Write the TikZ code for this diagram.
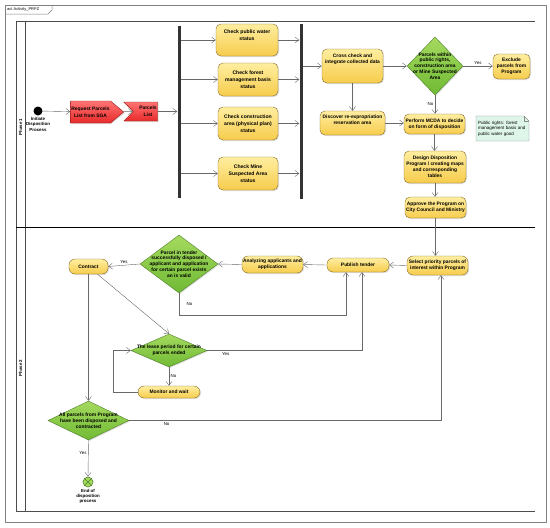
\documentclass[tikz,border=0pt]{standalone}
\usepackage{fontspec}
\setmainfont{Liberation Sans}
\usetikzlibrary{arrows.meta, positioning, shapes.geometric, shapes.symbols, shadows, backgrounds}

\definecolor{actTop}{RGB}{255,238,160}
\definecolor{actBottom}{RGB}{246,204,76}
\definecolor{actLine}{RGB}{135,108,40}
\definecolor{decTop}{RGB}{165,218,95}
\definecolor{decBottom}{RGB}{112,186,52}
\definecolor{decLine}{RGB}{78,128,40}
\definecolor{sigTop}{RGB}{255,115,115}
\definecolor{sigBottom}{RGB}{232,42,42}
\definecolor{sigLine}{RGB}{150,30,30}
\definecolor{noteFill}{RGB}{222,246,234}
\definecolor{flowGray}{RGB}{105,105,105}

\begin{document}
\begin{tikzpicture}[
			x=1pt, y=-1pt,
			font=\bfseries\fontsize{4.9}{6}\selectfont,
			% Node styles
			actBox/.style={rectangle, rounded corners=5pt, draw=actLine, top color=actTop, bottom color=actBottom, align=center, inner sep=1pt, drop shadow={shadow xshift=1pt, shadow yshift=-1pt, opacity=0.25}},
			checkBox/.style={actBox, font=\bfseries\fontsize{5.1}{7}\selectfont},
			pillBox/.style={actBox, rounded corners=6pt},
			decision/.style={diamond, draw=decLine, top color=decTop, bottom color=decBottom, inner sep=0pt, drop shadow={shadow xshift=1pt, shadow yshift=-1pt, opacity=0.25}},
			decText/.style={align=center, inner sep=0pt, font=\bfseries\fontsize{4.9}{5.8}\selectfont},
			sigBox/.style={signal, draw=sigLine, top color=sigTop, bottom color=sigBottom, align=center, inner sep=1pt, font=\bfseries\fontsize{4.9}{6.8}\selectfont, drop shadow={shadow xshift=1pt, shadow yshift=-1pt, opacity=0.25}},
			barNode/.style={rectangle, fill=black!80, inner sep=0pt, minimum width=3pt},
			initNode/.style={circle, fill=black, inner sep=0pt, minimum size=9pt},
			finalNode/.style={circle, draw=decLine, fill=decTop, inner sep=0pt, minimum size=10pt, line width=0.6pt},
			noteBox/.style={align=left, inner sep=2pt, text width=49pt, font=\mdseries\fontsize{4.5}{5.4}\selectfont},
			smallText/.style={align=center, inner sep=1pt, font=\bfseries\fontsize{4.4}{5.4}\selectfont},
			% Line styles
			flow/.style={draw=flowGray, -{Straight Barb[length=4pt, width=6pt]}},
			flowLabel/.style={font=\mdseries\fontsize{4.4}{5}\selectfont, inner sep=1.5pt},
			laneLine/.style={draw=black!70, line width=0.6pt}
			]
			
			\useasboundingbox (0,0) rectangle (550,528);
			
			% =========================================================
			% 0. FRAME AND SWIMLANES
			% =========================================================
			
			\draw[draw=black!50, line width=0.6pt] (5,5) rectangle (546,522);
			\draw[draw=black!50, line width=0.5pt] (5,14) -- (48,14) -- (52,10) -- (52,5);
			\node[font=\mdseries\fontsize{4}{5}\selectfont, anchor=west, inner sep=0pt] (tFrame) at (7,9.5) {act Activity\_PRPZ};
			
			\draw[laneLine] (16,511) -- (16,21) -- (535,21);
			\draw[laneLine] (25,21) -- (25,511);
			\draw[laneLine] (16,511) -- (535,511);
			\draw[laneLine, draw=black, line width=0.9pt] (16,227) -- (535,227);
			
			\node[smallText, rotate=90] (lPhase1) at (20.5,127) {Phase 1};
			\node[smallText, rotate=90] (lPhase2) at (20.5,368) {Phase 2};
			
			% =========================================================
			% 1. PHASE 1
			% =========================================================
			
			% Start and request
			\node[initNode] (init) at (38,111) {};
			\node[smallText, below=0.5pt of init] (lInit) {Initiate\\Disposition\\Process};
			
			\node[sigBox, signal to=east, signal pointer angle=80, minimum width=51pt, minimum height=22pt] (sRequest) at (90.5,112) {Request Parcels\\List from SGA};
			\node[sigBox, signal from=west, signal to=nowhere, minimum width=33pt, minimum height=19pt] (sParcels) at (145.5,111.5) {\hspace{5pt}Parcels\\\hspace{5pt}List};
			
			% Fork and checks
			\node[barNode, minimum height=172pt] (fork1) at (179,112) {};
			
			\node[checkBox, minimum width=62pt, minimum height=32pt] (wWater) at (247,40) {Check public water\\status\\[2pt]\mbox{}};
			\node[checkBox, minimum width=60pt, minimum height=33pt] (wForest) at (248,79.5) {Check forest\\management basis\\status};
			\node[checkBox, minimum width=60pt, minimum height=33pt] (wConstr) at (248,123.5) {Check construction\\area (physical plan)\\status};
			\node[checkBox, minimum width=60pt, minimum height=33pt] (wMine) at (248,173.5) {Check Mine\\Suspected Area\\status};
			
			\node[barNode, minimum height=175pt] (join1) at (301,111.5) {};
			
			% Evaluation
			\node[actBox, minimum width=61pt, minimum height=34pt] (wCross) at (352.5,66) {Cross check and\\integrate collected data\\[8pt]\mbox{}};
			\node[decision, minimum width=56pt, minimum height=58pt, label={[decText]center:{Parcels within\\public rights,\\construction area\\or Mine Suspected\\Area}}] (dParcels) at (435,66) {};
			\node[actBox, minimum width=37pt, minimum height=25pt] (wExclude) at (511.5,66.5) {Exclude\\parcels from\\Program};
			
			\node[actBox, minimum width=65pt, minimum height=24pt] (wDiscover) at (352.5,123) {Discover re-expropriation\\reservation area\\[0pt]\mbox{}};
			\node[actBox, minimum width=61pt, minimum height=20pt] (wMcda) at (434.5,124) {Perform MCDA to decide\\on form of disposition};
			\node[noteBox] (nRights) at (502.5,128.5) {Public rights: forest\\management basis and\\public water good};
			
			\node[actBox, minimum width=62pt, minimum height=32pt] (wDesign) at (435,167) {Design Disposition\\Program / creating maps\\and corresponding\\tables};
			\node[actBox, minimum width=61pt, minimum height=21pt] (wApprove) at (435.5,207.5) {Approve the Program on\\City Council and Ministry};
			
			% Note outline with folded corner
			\begin{scope}[on background layer]
				\filldraw[fill=noteFill, draw=black!45, line width=0.4pt] (476,141) -- (529,141) -- (529,121) -- (524,116) -- (476,116) -- cycle;
				\draw[draw=black!45, line width=0.4pt] (524,116) -- (524,121) -- (529,121);
			\end{scope}
			
			% Phase 1 flows
			\draw[flow] (init) -- (sRequest);
			\draw[flow] (sRequest) -- (sParcels);
			\draw[flow] (sParcels.east) -- (fork1.west |- sParcels.east);
			
			\draw[flow] (fork1.east |- wWater.west) -- (wWater.west);
			\draw[flow] (fork1.east |- wForest.west) -- (wForest.west);
			\draw[flow] (fork1.east |- wConstr.west) -- (wConstr.west);
			\draw[flow] (fork1.east |- wMine.west) -- (wMine.west);
			
			\draw[flow] (wWater.east) -- (join1.west |- wWater.east);
			\draw[flow] (wForest.east) -- (join1.west |- wForest.east);
			\draw[flow] (wConstr.east) -- (join1.west |- wConstr.east);
			\draw[flow] (wMine.east) -- (join1.west |- wMine.east);
			
			\draw[flow] (join1.east |- wCross.west) -- (wCross.west);
			\draw[flow] (wCross.east) -- (dParcels.west);
			\draw[flow] (dParcels.east) -- node[flowLabel, above] (lYes1) {Yes} (wExclude.west |- dParcels.east);
			\draw[flow] (dParcels.south) -- node[flowLabel, left] (lNo1) {No} (dParcels.south |- wMcda.north);
			\draw[flow] (wCross.south) -- (wDiscover.north);
			\draw[flow] (wDiscover.east) -- (wMcda.west |- wDiscover.east);
			\draw[flow] (wMcda.south) -- (wMcda.south |- wDesign.north);
			\draw[flow] (wDesign.south) -- (wDesign.south |- wApprove.north);
			
			% =========================================================
			% 2. PHASE 2
			% =========================================================
			
			\node[pillBox, minimum width=61pt, minimum height=19pt] (wSelect) at (437.5,265.5) {Select priority parcels of\\interest within Program};
			\node[pillBox, minimum width=62pt, minimum height=14pt] (wPublish) at (358,265) {Publish tender};
			\node[pillBox, minimum width=61pt, minimum height=17pt] (wAnalyze) at (272.5,264.5) {Analyzing applicants and\\applications};
			\node[decision, minimum width=78pt, minimum height=58pt, label={[decText]center:{Parcel in tender\\successfully disposed /\\applicant and application\\for certain parcel exists\\an is valid}}] (dTender) at (179,264) {};
			\node[pillBox, minimum width=39pt, minimum height=15pt] (wContract) at (88.5,266.5) {Contract};
			
			\node[decision, minimum width=76pt, minimum height=33pt, label={[decText]center:{The lease period for certain\\parcels ended}}] (dLease) at (169,350.5) {};
			\node[pillBox, minimum width=62pt, minimum height=12pt] (wMonitor) at (169,392) {Monitor and wait};
			
			\node[decision, minimum width=81pt, minimum height=39pt, label={[decText]center:{All parcels from Program\\have been disposed and\\contracted}}] (dAll) at (88.5,420.5) {};
			\node[finalNode] (endNode) at (88,482) {};
			\draw[draw=decLine, line width=0.6pt] (endNode.45) -- (endNode.225) (endNode.135) -- (endNode.315);
			\node[smallText, below=0.5pt of endNode] (lEnd) {End of\\disposition\\process};
			
			% Phase 2 flows
			\draw[flow] (wApprove.south) -- (wApprove.south |- wSelect.north);
			\draw[flow] (wSelect.west) -- (wPublish.east);
			\draw[flow] (wPublish.west) -- (wAnalyze.east);
			\draw[flow] (wAnalyze.west) -- (dTender.east);
			\draw[flow] (dTender.west) -- node[flowLabel, above] (lYes2) {Yes} (wContract.east);
			\draw[flow] (dTender.south) -- node[flowLabel, right=6pt] (lNo2) {No} ++(0,22) -| ([xshift=-12pt]wPublish.south);
			
			\draw[flow] ([xshift=9pt]wContract.south) -- (dLease.north);
			\draw[flow] (dLease.east) -| node[flowLabel, below, pos=0.06] (lYes3) {Yes} ([xshift=4pt]wPublish.south);
			\draw[flow] (dLease.south) -- node[flowLabel, right] (lNo3) {No} (wMonitor.north);
			\draw[flow] (wMonitor.west) -- ++(-25,0) |- (dLease.west);
			
			\draw[flow] (wContract.south) -- (dAll.north);
			\draw[flow] (dAll.east) -| node[flowLabel, below, pos=0.06] (lNo4) {No} ([xshift=3.5pt]wSelect.south);
			\draw[flow] (dAll.south) -- node[flowLabel, left, pos=0.35] (lYes4) {Yes} (endNode.north);
			
		\end{tikzpicture}
\end{document}
